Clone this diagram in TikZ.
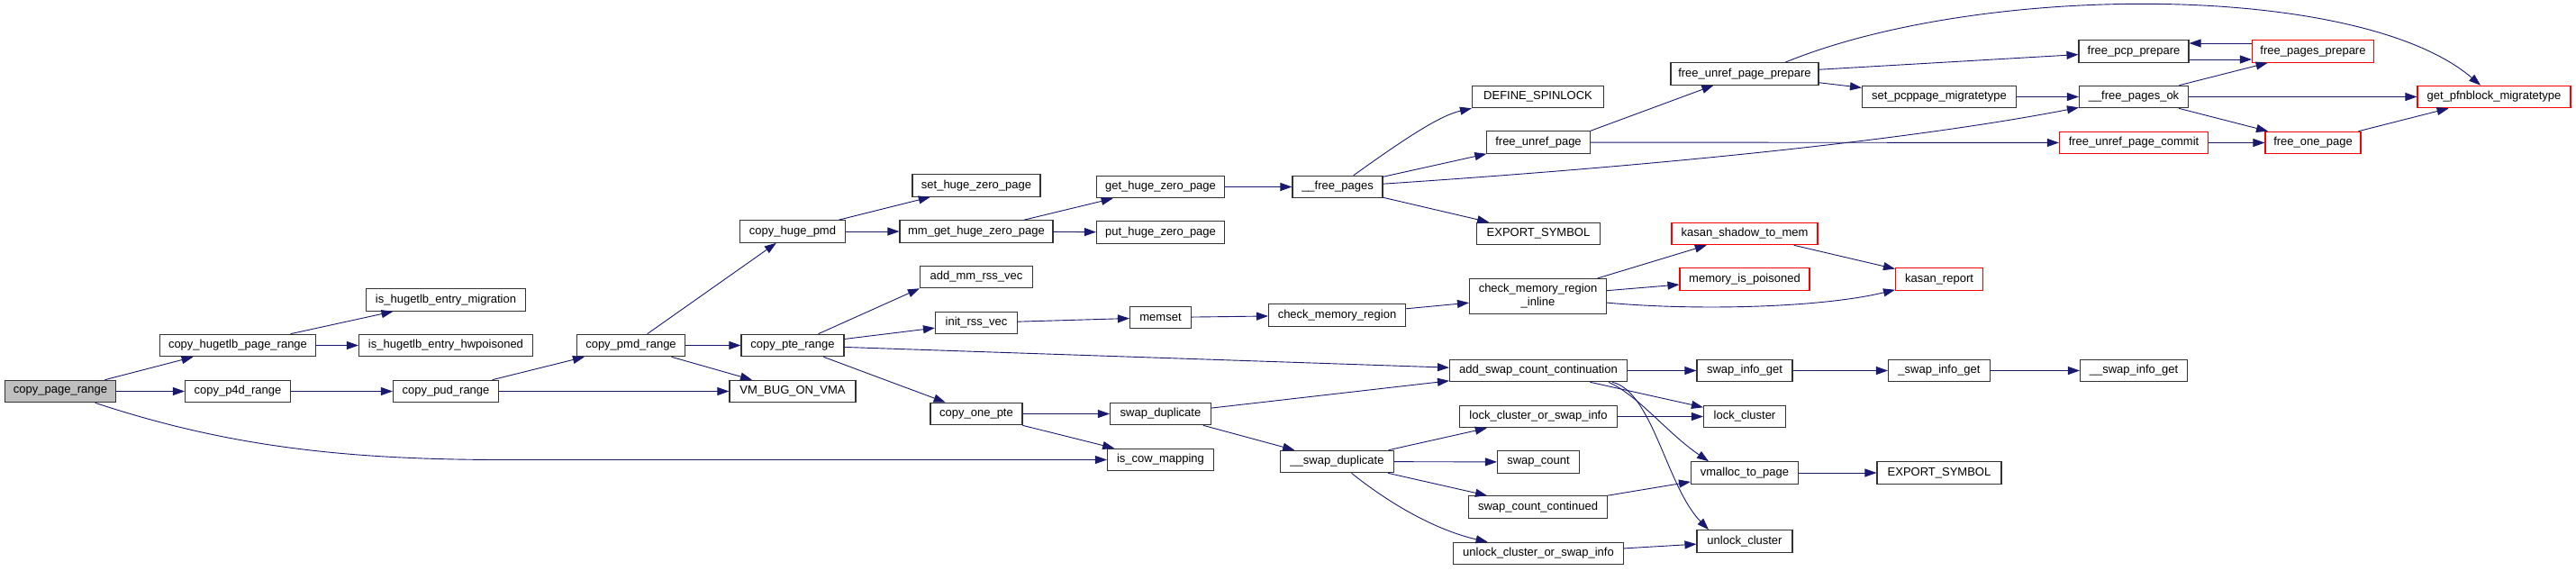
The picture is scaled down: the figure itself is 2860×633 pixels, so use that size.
\documentclass[tikz,border=0pt]{standalone}
\usepackage{fontspec}
\setmainfont{Liberation Sans}
\usepackage{xcolor}
\usepackage{tikz}
\usetikzlibrary{arrows.meta}
\definecolor{edg}{RGB}{25,25,112}
\definecolor{rootg}{RGB}{191,191,191}

\begin{document}
\begin{tikzpicture}[x=1pt,y=-1pt,font=\fontsize{13}{15}\selectfont,>={Triangle[length=13pt,width=9pt]},
  fn/.style={draw=black!80,line width=1.1pt,fill=white,minimum width=#1-1,minimum height=24.5pt,inner xsep=2pt,inner ysep=2pt},
  fnr/.style={fn=#1,draw=red},
  root/.style={fn=#1,fill=rootg},
  cl/.style={->,draw=edg,line width=0.9pt}]
  \useasboundingbox (0,0) rectangle (2860,633);
  \fill[white] (0,0) rectangle (2860,633);
  % columns from left to right
  \node[root=124] (cpr) at (67,434.5) {copy\_page\_range};
  \node[fn=174] (chpr) at (264,383.5) {copy\_hugetlb\_page\_range};
  \node[fn=118] (cp4d) at (264,434.5) {copy\_p4d\_range};
  \node[fn=178] (ihem) at (495,333) {is\_hugetlb\_entry\_migration};
  \node[fn=194] (ihehw) at (495,383.5) {is\_hugetlb\_entry\_hwpoisoned};
  \node[fn=118] (cpud) at (495,434.5) {copy\_pud\_range};
  \node[fn=121] (cpmd) at (700.5,383.5) {copy\_pmd\_range};
  \node[fn=118] (chpmd) at (880,257) {copy\_huge\_pmd};
  \node[fn=115] (cpte) at (880,383.5) {copy\_pte\_range};
  \node[fn=141] (vmbug) at (880,434.5) {VM\_BUG\_ON\_VMA};
  \node[fn=143] (shzp) at (1084,206) {set\_huge\_zero\_page};
  \node[fn=171] (mghzp) at (1084,257) {mm\_get\_huge\_zero\_page};
  \node[fn=126] (amrv) at (1084,307.5) {add\_mm\_rss\_vec};
  \node[fn=92] (irv) at (1084,358.5) {init\_rss\_vec};
  \node[fn=103] (cop) at (1084,459.5) {copy\_one\_pte};
  \node[fn=143] (ghzp) at (1288.5,207.5) {get\_huge\_zero\_page};
  \node[fn=143] (phzp) at (1288.5,258) {put\_huge\_zero\_page};
  \node[fn=69] (mset) at (1288.5,352.5) {memset};
  \node[fn=113] (swd) at (1288.5,459.5) {swap\_duplicate};
  \node[fn=119] (icm) at (1288.5,510.5) {is\_cow\_mapping};
  \node[fn=101] (frp) at (1485,207.5) {\_\_free\_pages};
  \node[fn=153] (cmr) at (1484.5,350) {check\_memory\_region};
  \node[fn=127] (uswd) at (1484.5,512.5) {\_\_swap\_duplicate};
  \node[fn=147] (dsl) at (1707.5,107.5) {DEFINE\_SPINLOCK};
  \node[fn=116] (fup) at (1708,158) {free\_unref\_page};
  \node[fn=138] (exs1) at (1708,259.5) {EXPORT\_SYMBOL};
  \node[fn=153,align=center,minimum height=39pt] (cmri) at (1707.5,329) {check\_memory\_region\\\_inline};
  \node[fn=198] (ascc) at (1708,411.5) {add\_swap\_count\_continuation};
  \node[fn=176] (lcsi) at (1708,462.5) {lock\_cluster\_or\_swap\_info};
  \node[fn=92] (swc) at (1708,513) {swap\_count};
  \node[fn=155] (scc) at (1707.5,563) {swap\_count\_continued};
  \node[fn=190] (ucsi) at (1708,614.5) {unlock\_cluster\_or\_swap\_info};
  \node[fn=165] (fupp) at (1937,82) {free\_unref\_page\_prepare};
  \node[fnr=163] (kstm) at (1937,259.5) {kasan\_shadow\_to\_mem};
  \node[fnr=145] (mip) at (1937,310) {memory\_is\_poisoned};
  \node[fn=107] (sig) at (1937,411.5) {swap\_info\_get};
  \node[fn=92] (lcl) at (1937,462.5) {lock\_cluster};
  \node[fn=120] (vtp) at (1937,525) {vmalloc\_to\_page};
  \node[fn=107] (ulc) at (1937,601) {unlock\_cluster};
  \node[fn=172] (spm) at (2153,107.5) {set\_pcppage\_migratetype};
  \node[fnr=98] (krep) at (2153,310) {kasan\_report};
  \node[fn=114] (usig) at (2153,411.5) {\_swap\_info\_get};
  \node[fn=139] (exs2) at (2153,525) {EXPORT\_SYMBOL};
  \node[fn=123] (fpcp) at (2369,57) {free\_pcp\_prepare};
  \node[fn=122] (fpok) at (2369,107.5) {\_\_free\_pages\_ok};
  \node[fnr=166] (fupc) at (2369,158.5) {free\_unref\_page\_commit};
  \node[fn=120] (uusig) at (2369,411.5) {\_\_swap\_info\_get};
  \node[fnr=136] (fpp) at (2568,57) {free\_pages\_prepare};
  \node[fnr=107] (fop) at (2568,158.5) {free\_one\_page};
  \node[fnr=171] (gpm) at (2769,107.5) {get\_pfnblock\_migratetype};
  \coordinate (cowbend) at (560,510.5);
  % calls
  \draw[cl] (cpr) -- (chpr); \draw[cl] (cpr) -- (cp4d);
  \draw[cl] (cpr) .. controls (250,495) and (380,510.5) .. (cowbend) -- (icm);
  \draw[cl] (chpr) -- (ihem); \draw[cl] (chpr) -- (ihehw);
  \draw[cl] (cp4d) -- (cpud);
  \draw[cl] (cpud) -- (cpmd); \draw[cl] (cpud) -- (vmbug);
  \draw[cl] (cpmd) -- (chpmd); \draw[cl] (cpmd) -- (cpte); \draw[cl] (cpmd) -- (vmbug);
  \draw[cl] (chpmd) -- (shzp); \draw[cl] (chpmd) -- (mghzp);
  \draw[cl] (mghzp) -- (ghzp); \draw[cl] (mghzp) -- (phzp);
  \draw[cl] (ghzp) -- (frp);
  \draw[cl] (cpte) -- (amrv.south west); \draw[cl] (cpte) -- (irv);
  \draw[cl] (cpte) -- (ascc); \draw[cl] (cpte) -- (cop);
  \draw[cl] (irv) -- (mset); \draw[cl] (mset) -- (cmr); \draw[cl] (cmr) -- (cmri);
  \draw[cl] (cmri) -- (kstm); \draw[cl] (cmri) -- (mip);
  \draw[cl] (cmri) .. controls (1880,345) and (2020,342) .. (krep);
  \draw[cl] (kstm) -- (krep);
  \draw[cl] (cop) -- (swd); \draw[cl] (cop) -- (icm);
  \draw[cl] (swd) -- (ascc); \draw[cl] (swd) -- (uswd);
  \draw[cl] (uswd) -- (lcsi); \draw[cl] (uswd) -- (swc); \draw[cl] (uswd) -- (scc);
  \draw[cl] (uswd) .. controls (1550,565) and (1600,590) .. (ucsi);
  \draw[cl] (lcsi) -- (lcl); \draw[cl] (scc) -- (vtp); \draw[cl] (ucsi) -- (ulc);
  \draw[cl] (ascc) -- (sig); \draw[cl] (ascc) -- (lcl);
  \draw[cl] ([xshift=78pt]ascc.south) .. controls (1820,440) and (1850,480) .. ([xshift=-40pt]vtp.north);
  \draw[cl] ([xshift=82pt]ascc.south) .. controls (1835,435) and (1850,540) .. ([xshift=-40pt]ulc.north);
  \draw[cl] (sig) -- (usig); \draw[cl] (usig) -- (uusig); \draw[cl] (vtp) -- (exs2);
  \draw[cl] (frp) .. controls (1565,150) and (1600,128) .. (dsl.south west);
  \draw[cl] (frp) -- (fup);
  \draw[cl] (frp) .. controls (1900,180) and (2150,150) .. (fpok);
  \draw[cl] (frp) -- (exs1);
  \draw[cl] (fup.north east) -- (fupp); \draw[cl] (fup) -- (fupc);
  \draw[cl] ([xshift=45pt]fupp.north) .. controls (2200,-20) and (2620,-20) .. (gpm);
  \draw[cl] (fupp) -- (fpcp); \draw[cl] (fupp) -- (spm);
  \draw[cl] (spm) -- (fpok);
  \draw[cl] ([yshift=-9pt]fpcp.east) -- ([yshift=-9pt]fpp.west);
  \draw[cl] ([yshift=9pt]fpp.west) -- ([yshift=9pt]fpcp.east);
  \draw[cl] (fpok) -- (fpp); \draw[cl] (fpok) -- (gpm); \draw[cl] (fpok) -- (fop);
  \draw[cl] (fupc) -- (fop); \draw[cl] (fop) -- (gpm);
\end{tikzpicture}
\end{document}
